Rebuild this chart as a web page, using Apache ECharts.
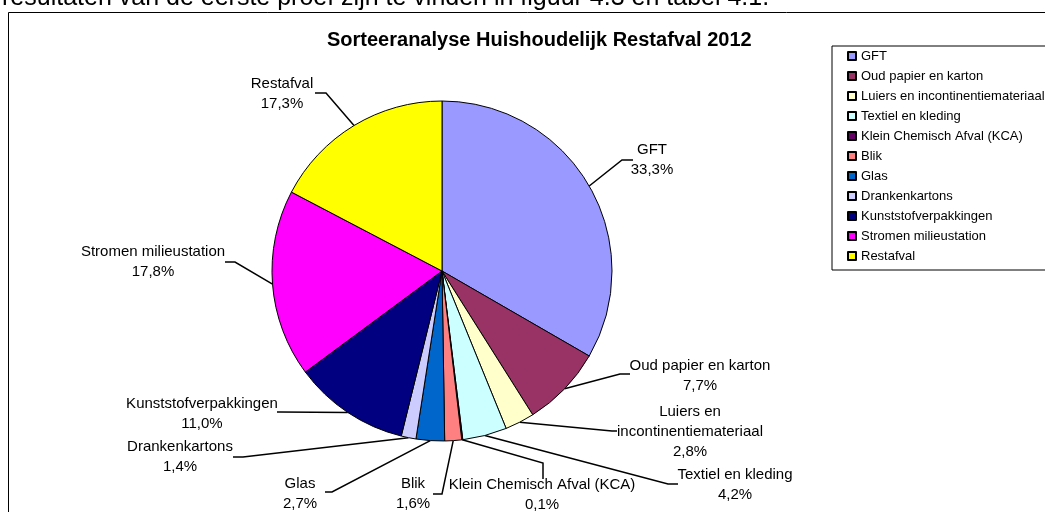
<!DOCTYPE html>
<html>
<head>
<meta charset="utf-8">
<title>Sorteeranalyse Huishoudelijk Restafval 2012</title>
<script src="https://cdn.jsdelivr.net/npm/echarts@6/dist/echarts.min.js"></script>
<style>
  html, body { margin: 0; padding: 0; background: #fff; }
  #chart { width: 1045px; height: 512px; }
</style>
</head>
<body>
<div id="chart"></div>
<script>
// categories and shares (%)
const categories = [
    'GFT',
    'Oud papier en karton',
    'Luiers en incontinentiemateriaal',
    'Textiel en kleding',
    'Klein Chemisch Afval (KCA)',
    'Blik',
    'Glas',
    'Drankenkartons',
    'Kunststofverpakkingen',
    'Stromen milieustation',
    'Restafval'
];
const shares = [33.3, 7.7, 2.8, 4.2, 0.1, 1.6, 2.7, 1.4, 11.0, 17.8, 17.3];
const sliceColors = ['#9999FF', '#993366', '#FFFFCC', '#CCFFFF', '#660066', '#FF8080',
    '#0066CC', '#CCCCFF', '#000080', '#FF00FF', '#FFFF00'];

// label placement: text centre, leader corner, leader end (layout only)
const labelSpots = [
    [652, 160, 622, 160, 633, 160],
    [700, 376, 620, 374, 630, 374],
    [690, 432, 612, 431, 617, 431],
    [735, 485, 668, 484, 678, 484],
    [542, 495, 543, 463, 543, 479],
    [413, 494, 442, 494, 433, 494],
    [300, 494, 332, 492, 325, 492],
    [180, 457, 243, 457, 233, 457],
    [202, 414, 280, 412, 277, 412],
    [153, 262, 235, 262, 225, 262],
    [282, 94, 326, 93, 315, 93]
];

const FONT = "'Liberation Sans', Arial, sans-serif";

function fmtPct(v) {
    return v.toFixed(1).replace('.', ',') + '%';
}

const chart = echarts.init(document.getElementById('chart'), null, { renderer: 'canvas' });

const option = {
    backgroundColor: '#fff',
    animation: false,
    color: sliceColors,
    textStyle: { fontFamily: FONT },
    graphic: [
        {
            // last line of the surrounding document text, cut by the top edge
            type: 'text',
            left: 2,
            top: -14,
            style: {
                text: 'resultaten van de eerste proef zijn te vinden in figuur 4.3 en tabel 4.1.',
                font: '25px ' + FONT,
                fill: '#000'
            }
        },
        {
            type: 'rect',
            shape: { x: 8.5, y: 12.5, width: 1100, height: 600 },
            style: { fill: 'none', stroke: '#000', lineWidth: 1 },
            z: -1
        }
    ],
    title: {
        text: 'Sorteeranalyse Huishoudelijk Restafval 2012',
        left: 327,
        top: 28,
        padding: 0,
        textStyle: { fontFamily: FONT, fontSize: 20, fontWeight: 'bold', color: '#000', lineHeight: 24 }
    },
    legend: {
        orient: 'vertical',
        left: 832,
        top: 46,
        padding: [0, 10, 4, 15],
        itemWidth: 8,
        itemHeight: 8,
        itemGap: 0,
        icon: 'rect',
        borderColor: '#000',
        borderWidth: 1,
        data: categories,
        textStyle: { fontFamily: FONT, fontSize: 13, color: '#000', lineHeight: 20 }
    },
    series: [{
        type: 'pie',
        center: [442, 271],
        radius: 170,
        startAngle: 90,
        clockwise: true,
        avoidLabelOverlap: false,
        itemStyle: { borderColor: '#000', borderWidth: 1 },
        label: {
            show: true,
            position: 'outside',
            fontFamily: FONT,
            fontSize: 15,
            lineHeight: 20,
            color: '#000',
            formatter: p => p.name.replace('en incont', 'en\nincont') + '\n' + fmtPct(p.value)
        },
        labelLine: {
            show: true,
            length: 10,
            length2: 10,
            lineStyle: { color: '#000', width: 1.5 }
        },
        labelLayout: params => {
            const s = labelSpots[params.dataIndex];
            const start = params.labelLinePoints ? params.labelLinePoints[0] : [s[2], s[3]];
            return {
                x: s[0],
                y: s[1],
                align: 'center',
                verticalAlign: 'middle',
                labelLinePoints: [start, [s[2], s[3]], [s[4], s[5]]]
            };
        },
        emphasis: { disabled: true },
        data: categories.map((name, i) => ({ name: name, value: shares[i] }))
    }]
};

chart.setOption(option);
</script>
</body>
</html>
